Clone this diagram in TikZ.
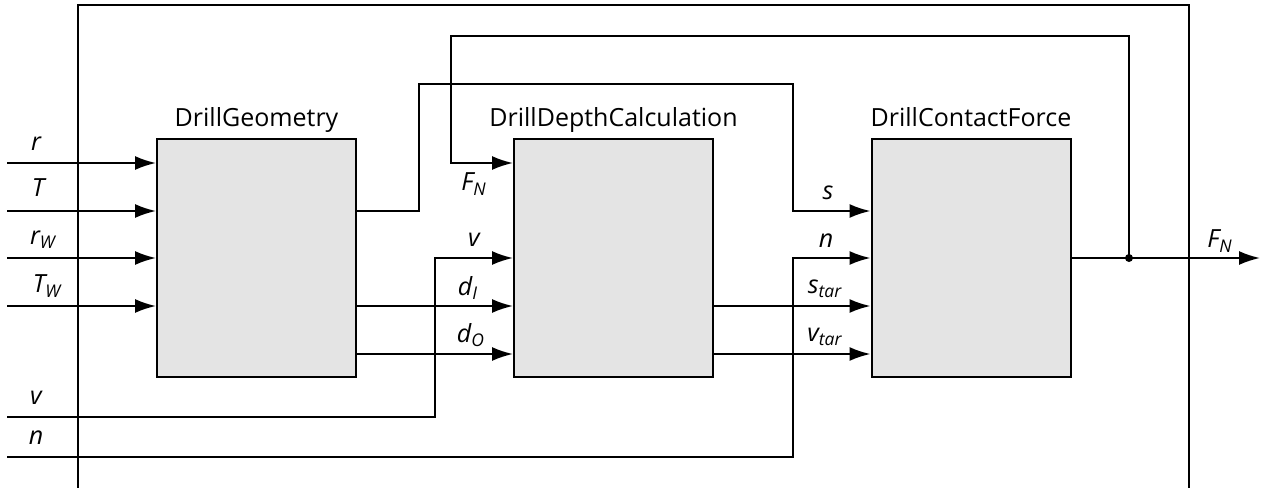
\documentclass[tikz,border=0pt]{standalone}
\usepackage{fontspec}
\setmainfont{Open Sans}
\usepackage{tikz}
\usetikzlibrary{arrows.meta,positioning,calc}
\definecolor{blockGray}{RGB}{228,228,228}

\begin{document}
\begin{tikzpicture}[x=0.5pt, y=-0.5pt,
    block/.style={draw, fill=blockGray, line width=1pt, minimum width=99.5pt, minimum height=119pt, inner sep=0pt},
    title/.style={font=\fontsize{12.5}{15}\selectfont, inner sep=0pt, anchor=base},
    sym/.style={font=\itshape\fontsize{12.5}{15}\selectfont, inner sep=0pt},
    sig/.style={line width=1pt, -{Latex[length=10.5pt,width=7pt]}},
    wire/.style={line width=1pt}]
    \useasboundingbox (0,0) rectangle (1266,488);

    % subsystem frame (open at the bottom)
    \draw[wire] (78,490) -- (78,5) -- (1189,5) -- (1189,490);

    % the three blocks
    \node[block] (geo) at (256.5,258) {};
    \node[block] (dep) at (613.5,258) {};
    \node[block] (con) at (971,258) {};
    \node[title] (geoT) at ($(geo.north)+(0,-12)$) {DrillGeometry};
    \node[title] (depT) at ($(dep.north)+(0,-12)$) {DrillDepthCalculation};
    \node[title] (conT) at ($(con.north)+(0,-12)$) {DrillContactForce};

    % free ends of the inputs
    \coordinate (inr)  at (7,163);
    \coordinate (inT)  at (7,211);
    \coordinate (inrW) at (7,258);
    \coordinate (inTW) at (7,306);
    \coordinate (rowE) at (7,354);
    \coordinate (inv)  at (7,417);
    \coordinate (inn)  at (7,457);
    \coordinate (outF) at (1260,258);
    \coordinate (jn)   at (1129,258);

    % inputs of DrillGeometry
    \foreach \p in {inr,inT,inrW,inTW}
      \draw[sig] (\p) -- (\p -| geo.west);

    % geometry -> depth
    \draw[sig] (geo.east |- inTW) -- (dep.west |- inTW);
    \draw[sig] (geo.east |- rowE) -- (dep.west |- rowE);
    % geometry -> contact force (s)
    \draw[sig] (geo.east |- inT) -| (419,84) -| (793,211) -- (con.west |- inT);

    % depth -> contact force
    \draw[sig] (dep.east |- inTW) -- (con.west |- inTW);
    \draw[sig] (dep.east |- rowE) -- (con.west |- rowE);

    % v and n along the bottom
    \draw[sig] (inv) -- (435,417) |- (dep.west |- inrW);
    \draw[sig] (inn) -- (793,457) |- (con.west |- inrW);

    % output and feedback of F_N
    \draw[sig] (con.east) -- (outF);
    \draw[sig] (jn) |- (451,36) |- (dep.west |- inr);
    \fill (jn) circle (4);

    % signal names
    \node[sym] (lr)  at (36,144) {r};
    \node[sym] (lT)  at (38,188) {T};
    \node[sym] (lrW) at (43,240) {r\textsubscript{W}};
    \node[sym] (lTW) at (47,286) {T\textsubscript{W}};
    \node[sym] (lv)  at (36,398) {v};
    \node[sym] (ln)  at (36,438) {n};

    \node[sym] (lFN) at (474,184) {F\textsubscript{N}};
    \node[sym] (lv2) at (474,240) {v};
    \node[sym] (ldI) at (468,288) {d\textsubscript{I}};
    \node[sym] (ldO) at (471,335) {d\textsubscript{O}};

    \node[sym] (ls)   at (828,193) {s};
    \node[sym] (ln2)  at (826,241) {n};
    \node[sym] (lst)  at (825,289) {s\textsubscript{tar}};
    \node[sym] (lvt)  at (825,337) {v\textsubscript{tar}};
    \node[sym] (lFo)  at (1220,241) {F\textsubscript{N}};
\end{tikzpicture}
\end{document}
